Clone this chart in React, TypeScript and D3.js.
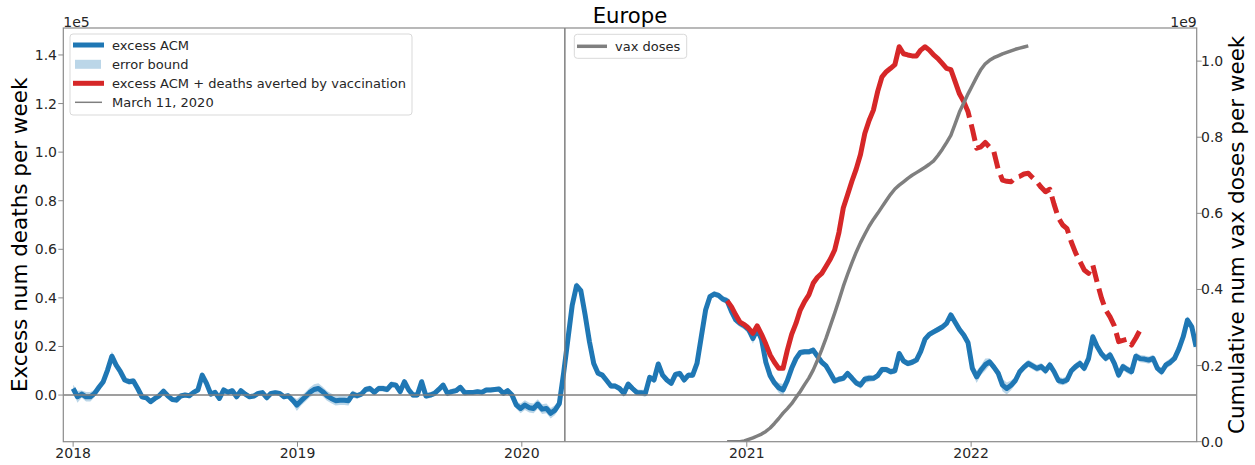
import React from 'react';
import * as d3 from 'd3';

// ---------- DATA ----------
const START_UTC = Date.UTC(2018, 0, 1);
const WEEK_MS = 7 * 86400000;

// excess all-cause mortality per week (thousands), weekly from 2018-01-01
const acm2018 = [2.7,-0.7,0.4,-0.7,-0.7,0.7,3.2,5.5,10.3,16,12.3,9.6,6.2,5.5,5.8,2.7,-0.7,-1.1,-2.7,-1.4,-0.3,1.6,-0.3,-1.8,-2.1,-0.4,0,-0.3,1.1,2.1,8.2,4.8,0.4,1.1,-1.4,2.1,1.1,1.8,-0.7,1.8,0.4,-0.7,-0.4,0.7,1.0,-1.1,0.7,1.0,0.7,-0.7,-0.3,-2.1];
const acm2019 = [-4.1,-2.3,-0.7,1.1,2.3,2.7,1.4,-0.3,-1.4,-2.3,-2.1,-2.1,-2.3,0.4,-0.3,0.4,2.3,2.7,1.1,2.7,2.7,2.3,4.4,4.1,1.4,5.5,2.1,0,0,5.5,-0.4,0,0.7,2.3,4.1,0.7,1.4,1.8,3.2,1.0,1.1,1.1,1.4,1.1,2.1,2.1,2.3,2.5,0.7,1.8,0,-4.1];
const acm2020 = [-5.5,-4.1,-5.2,-5.5,-3.7,-5.8,-5.5,-7.5,-6.2,-3.5,9,23,37,45,43,33,22,13,9,8.2,6.0,3.7,3.7,2.7,0.7,4.5,2.7,1.1,1.0,0.7,7.3,6.2,12.8,8.2,6.2,4.8,8.5,8.9,6.2,8.2,8.2,13,24,35,40.5,41.6,41,39.5,38.8,34.5,31,29.5];
const acm2021 = [28.5,27,23.3,27,23,13.5,8,5,3,2.1,6,11,15,17.5,17.8,17.8,18.5,16,13.5,12,9,5.8,6.5,6.9,8.9,7,5,4.1,6.5,6.9,6.9,8,10.5,10.5,9.6,10,17.1,14,13,13.5,14.4,18,23,25,26,27,28,29.5,33,30,27,24.7];
const acm2022 = [21.5,11,7.5,10.3,12.5,13.7,11.5,9,4.1,2.7,4,6,9.6,11.5,13,12,11,11.7,10,12.4,9.6,6,5.5,6.2,10,11.7,13,11,15,24,20,17,15.1,16.5,13,8.2,11.7,10.5,9.6,16,15,14.8,14.4,15.1,11,9.6,12.4,13.5,15.1,19,24,30.9,28.1,19.9];

// error bound half-width (thousands)
const err2018 = [1.5,2.5,1.5,2,2,1.5,1.2,1.2,1.5,2,1.5,1.2,1.2,1.2,1.2,1,1,1,1,1,1,1,1,1,1,1,1,1,1,1,1.2,1.2,1,1,1,1,1,1,1,1,1,1,1,1,1,1,1,1,1,1,1,1.5];
const err2019 = [2.5,2,2,2,2.2,2.2,2,2,2,2,2,2,2,1.5,1.2,1.2,1.2,1.2,1.2,1.2,1.2,1.2,1.2,1.2,1.2,1.2,1.2,1.2,1.2,1.2,1.2,1.2,1.2,1.2,1.2,1.2,1.2,1.2,1.2,1.2,1,1,1,1,1,1,1,1,1,1,1.2,1.5];
const err2020 = [2,2,2,2,2,2,2,2.2,2,1.8,1.5,1.5,1.5,1.5,1.5,1.5,1.5,1.5,1.2,1.2,1.2,1.2,1.2,1.2,1.5,1.2,1.2,1.2,1.2,1.5,1.2,1.2,1.2,1.2,1.2,1.2,1.2,1.2,1.2,1.2,1.2,1.2,1.2,1.2,1.2,1.2,1.2,1.2,1.5,1.5,1.5,1.5];
const err2021 = [1.5,2,2.2,1.5,1.5,1.5,1.5,1.5,2,2.5,1.5,1.2,1.2,1.2,1.2,1.2,1.2,1.2,1.2,1.2,1.2,1.2,1.2,1.2,1.2,1.2,1.2,1.5,1.5,1.5,1.2,1.2,1.2,1.2,1.2,1.2,1.2,1.2,1.2,1.2,1.2,1.2,1.2,1.2,1.2,1.2,1.2,1.2,1.2,1.2,1.5,1.5];
const err2022 = [1.5,2,2.5,2,2.5,1.5,1.5,1.5,2.5,2.5,2,1.5,1.5,1.5,1.5,1.5,1.5,1.5,1.5,1.5,1.5,1.5,1.5,1.5,1.5,1.5,1.5,1.5,1.5,1.5,1.5,1.5,1.5,1.5,1.5,1.5,1.5,1.5,1.5,1.5,1.5,1.5,1.5,1.5,1.5,1.5,1.5,1.5,1.5,1.5,1.5,1.5,1.5,1.5];

// excess ACM + deaths averted by vaccination (thousands)
const avertedStartWeek = 152;
const avertedSolid = [38.8,36.4,33,30,29,27.5,25.4,28.5,25,21,16.5,13.5,11,11,18.5,25,29.5,35,38.5,41.2,46,48.5,50.1,53,56,59.7,67,77,82.5,88,93,99,107.7,113,117.3,125,131,133.1,134.5,136,143.4,140.5,140,139.6,139.6,142,143.4,142,140,138.5,136.5,134.5,134,129,124,120.8];
const avertedDashed = [120.8,116.6,109.5,101.6,102.2,104,102,100.2,93,88.5,88,87.8,89.5,90,91,91.3,89.5,87.8,85.5,83.7,84.7,78.5,73,70,68.5,63,58.5,55,51.5,50.1,53.5,46.5,40,35,32.2,28.5,22,22.5,23,20.6,23.5,26.8];

// cumulative vaccine doses (billions)
const vaxStartWeek = 152;
const vaxDoses = [0,0,0,0,0.002,0.006,0.010,0.015,0.020,0.027,0.036,0.048,0.061,0.075,0.087,0.100,0.116,0.132,0.150,0.167,0.188,0.214,0.242,0.272,0.305,0.338,0.372,0.408,0.440,0.470,0.498,0.523,0.545,0.566,0.584,0.600,0.617,0.634,0.650,0.664,0.674,0.683,0.692,0.700,0.707,0.714,0.721,0.729,0.738,0.752,0.768,0.786,0.805,0.835,0.866,0.890,0.914,0.936,0.958,0.978,0.993,1.002,1.009,1.014,1.019,1.023,1.027,1.031,1.034,1.037,1.040];

const yearTicks = [2018, 2019, 2020, 2021, 2022];
const leftTicks = [0, 20, 40, 60, 80, 100, 120, 140]; // thousands
const rightTicks = [0, 0.2, 0.4, 0.6, 0.8, 1.0]; // billions
const marchDate = Date.UTC(2020, 2, 11);

const legendLeft = ['excess ACM', 'error bound', 'excess ACM + deaths averted by vaccination', 'March 11, 2020'];
const legendRight = ['vax doses'];

// ---------- CHART ----------
const W = 1255, H = 465;
const L = 63.3, R = 1196.7, T = 28, B = 441.7;
const FONT = 'DejaVu Sans, sans-serif';
const BLUE = '#1f77b4', RED = '#d62728', GRAY = '#7f7f7f', SPINE = '#8a8a8a', TXT = '#262626';

const wk = (i: number) => new Date(START_UTC + i * WEEK_MS);

export default function App() {
  const x = d3.scaleUtc()
    .domain([new Date(Date.UTC(2017, 11, 16)), new Date(Date.UTC(2023, 0, 3))])
    .range([L, R]);
  const y = d3.scaleLinear().domain([-19.2, 151.1]).range([B, T]);
  const y2 = d3.scaleLinear().domain([0, 1.087]).range([B, T]);

  const acm = [...acm2018, ...acm2019, ...acm2020, ...acm2021, ...acm2022];
  const err = [...err2018, ...err2019, ...err2020, ...err2021, ...err2022];
  const acmPts = acm.map((v, i) => ({ d: wk(i), v, e: err[i] ?? 1.2 }));

  const line = d3.line<{ d: Date; v: number }>().x(p => x(p.d)).y(p => y(p.v));
  const area = d3.area<{ d: Date; v: number; e: number }>()
    .x(p => x(p.d)).y0(p => y(p.v - p.e)).y1(p => y(p.v + p.e));
  const vaxLine = d3.line<{ d: Date; v: number }>().x(p => x(p.d)).y(p => y2(p.v));

  const solidPts = avertedSolid.map((v, i) => ({ d: wk(avertedStartWeek + i), v }));
  const dashStart = avertedStartWeek + avertedSolid.length - 1;
  const dashPts = avertedDashed.map((v, i) => ({ d: wk(dashStart + i), v }));
  const vaxPts = vaxDoses.map((v, i) => ({ d: wk(vaxStartWeek + i), v }));

  const mx = x(new Date(marchDate));
  const legRows = [45, 64.3, 83.3, 102.3];

  return (
    <svg width={W} height={H} style={{ position: 'absolute', left: 0, top: 0, background: '#fff' }} fontFamily={FONT}>
      <rect x={0} y={0} width={W} height={H} fill="#fff" />
      <defs>
        <clipPath id="plot"><rect x={L} y={T} width={R - L} height={B - T} /></clipPath>
      </defs>
      <g clipPath="url(#plot)">
        <path d={area(acmPts) || ''} fill={BLUE} fillOpacity={0.3} stroke="none" />
        <path d={line(acmPts) || ''} fill="none" stroke={BLUE} strokeWidth={5} strokeLinejoin="round" />
        <path d={line(solidPts) || ''} fill="none" stroke={RED} strokeWidth={5} strokeLinejoin="round" />
        <path d={line(dashPts) || ''} fill="none" stroke={RED} strokeWidth={5} strokeLinejoin="round" strokeDasharray="17 7" />
        <line x1={L} x2={R} y1={y(0)} y2={y(0)} stroke={GRAY} strokeWidth={1.5} />
        <line x1={mx} x2={mx} y1={T} y2={B} stroke={GRAY} strokeWidth={1.5} />
        <path d={vaxLine(vaxPts) || ''} fill="none" stroke={GRAY} strokeWidth={3.5} strokeLinejoin="round" />
      </g>

      {/* spines */}
      <rect x={L} y={T} width={R - L} height={B - T} fill="none" stroke={SPINE} strokeWidth={1.2} />

      {/* x ticks */}
      {yearTicks.map(yr => {
        const xx = x(new Date(Date.UTC(yr, 0, 1)));
        return (
          <g key={yr}>
            <line x1={xx} x2={xx} y1={B} y2={B + 5} stroke={SPINE} strokeWidth={1} />
            <text x={xx} y={458.3} fontSize={14} textAnchor="middle" fill={TXT}>{yr}</text>
          </g>
        );
      })}

      {/* left ticks */}
      {leftTicks.map(t => (
        <g key={'l' + t}>
          <line x1={L - 5} x2={L} y1={y(t)} y2={y(t)} stroke={SPINE} strokeWidth={1} />
          <text x={57} y={y(t) + 5} fontSize={14} textAnchor="end" fill={TXT}>{(t / 100).toFixed(1)}</text>
        </g>
      ))}
      <text x={L} y={26.7} fontSize={14} fill={TXT}>1e5</text>

      {/* right ticks */}
      {rightTicks.map(t => (
        <g key={'r' + t}>
          <line x1={R} x2={R + 5} y1={y2(t)} y2={y2(t)} stroke={SPINE} strokeWidth={1} />
          <text x={1201} y={y2(t) + 5} fontSize={14} textAnchor="start" fill={TXT}>{t.toFixed(1)}</text>
        </g>
      ))}
      <text x={R} y={26.7} fontSize={14} textAnchor="end" fill={TXT}>1e9</text>

      {/* axis labels */}
      <text transform={`translate(27.4, ${(T + B) / 2}) rotate(-90)`} fontSize={21.5} textAnchor="middle" fill="#000">Excess num deaths per week</text>
      <text transform={`translate(1244, ${(T + B) / 2}) rotate(-90)`} fontSize={21.5} textAnchor="middle" fill="#000">Cumulative num vax doses per week</text>

      {/* title */}
      <text x={(L + R) / 2} y={23} fontSize={21.2} textAnchor="middle" fill="#000">Europe</text>

      {/* left legend */}
      <g>
        <rect x={70} y={34} width={342} height={81} rx={3} fill="#fff" fillOpacity={0.85} stroke="#d9d9d9" strokeWidth={1} />
        <line x1={73} x2={104} y1={legRows[0]} y2={legRows[0]} stroke={BLUE} strokeWidth={5} />
        <rect x={75} y={legRows[1] - 4.5} width={26} height={9} fill={BLUE} fillOpacity={0.3} />
        <line x1={73} x2={104} y1={legRows[2]} y2={legRows[2]} stroke={RED} strokeWidth={5} />
        <line x1={75} x2={102} y1={legRows[3]} y2={legRows[3]} stroke={GRAY} strokeWidth={1.5} />
        {legendLeft.map((s, i) => (
          <text key={s} x={112} y={legRows[i] + 4.6} fontSize={13} fill={TXT}>{s}</text>
        ))}
      </g>

      {/* right legend */}
      <g>
        <rect x={574.3} y={34.3} width={112.4} height={24} rx={3} fill="#fff" fillOpacity={0.85} stroke="#d9d9d9" strokeWidth={1} />
        <line x1={577} x2={607} y1={46.3} y2={46.3} stroke={GRAY} strokeWidth={3.5} />
        <text x={615} y={46.3 + 4.6} fontSize={13} fill={TXT}>{legendRight[0]}</text>
      </g>
    </svg>
  );
}
